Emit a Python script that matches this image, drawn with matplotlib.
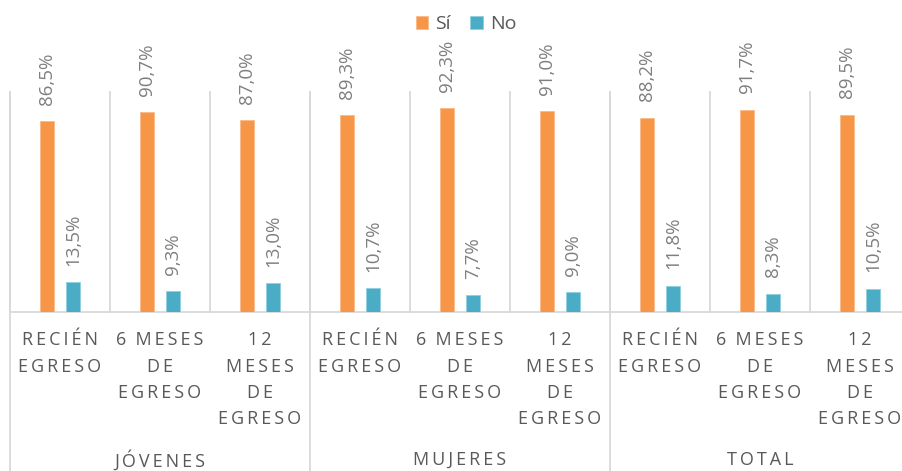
import matplotlib
matplotlib.use("Agg")
import matplotlib.pyplot as plt
from matplotlib import transforms
from matplotlib.lines import Line2D

plt.rcParams['font.family'] = ['Open Sans', 'DejaVu Sans']

groups = ["JÓVENES", "MUJERES", "TOTAL"]
categories = ["RECIÉN\nEGRESO", "6 MESES\nDE\nEGRESO", "12\nMESES\nDE\nEGRESO"] * 3
si_values = [86.5, 90.7, 87.0, 89.3, 92.3, 91.0, 88.2, 91.7, 89.5]
no_values = [13.5, 9.3, 13.0, 10.7, 7.7, 9.0, 11.8, 8.3, 10.5]
series_names = ["Sí", "No"]

C_SI = "#F79646"
C_NO = "#4BACC6"
GRID = "#D9D9D9"
LBL = "#7F7F7F"
TXT = "#595959"

W, H = 902, 471
fig = plt.figure(figsize=(W / 100, H / 100), dpi=100)
top_px, base_px, left_px, right_px = 91.5, 312, 10, 910
ax = fig.add_axes([left_px / W, (H - base_px) / H, (right_px - left_px) / W, (base_px - top_px) / H])
n = len(si_values)
ax.set_xlim(0, n)
ax.set_ylim(0, 100)
ax.axis('off')

xs = [i + 0.5 for i in range(n)]
off, bw = 0.13, 0.14
b1 = ax.bar([x - off for x in xs], si_values, width=bw, color=C_SI, edgecolor="#FAB98A", linewidth=0.6, label=series_names[0], zorder=3)
b2 = ax.bar([x + off for x in xs], no_values, width=bw, color=C_NO, edgecolor="#8FCFE0", linewidth=0.6, label=series_names[1], zorder=3)

def fmt(v):
    return f"{v:.1f}".replace('.', ',') + "%"

for x, v in zip(xs, si_values):
    ax.annotate(fmt(v), xy=(x - off, v), xytext=(0, 16.5), textcoords='offset pixels',
                rotation=90, ha='center', va='bottom', fontsize=13.5, color=LBL, annotation_clip=False)
for x, v in zip(xs, no_values):
    ax.annotate(fmt(v), xy=(x + off, v), xytext=(0, 16.5), textcoords='offset pixels',
                rotation=90, ha='center', va='bottom', fontsize=13.5, color=LBL, annotation_clip=False)

for k in range(n + 1):
    ax.plot([k, k], [0, 100], color=GRID, lw=1.3, clip_on=False, zorder=1)
ax.plot([0, n], [0, 0], color=GRID, lw=1.3, clip_on=False, zorder=2)

for k in range(0, n + 1, 3):
    xf = (left_px + 100 * k) / W
    fig.add_artist(Line2D([xf, xf], [0, (H - top_px) / H], transform=fig.transFigure, color=GRID, lw=1.3))

def spaced(s):
    return "  ".join("\u2009".join(list(w)) for w in s.split(" "))

trans = transforms.blended_transform_factory(ax.transData, fig.transFigure)
line_y = [340, 366.5, 393, 419.5]
for x, cat in zip(xs, categories):
    for j, line in enumerate(cat.split("\n")):
        fig.text(x, (H - line_y[j]) / H, spaced(line), transform=trans, ha='center', va='center',
                 fontsize=13, color=TXT)

for g, name in enumerate(groups):
    fig.text(3 * g + 1.5, (H - 460) / H, spaced(name), transform=trans, ha='center', va='center',
             fontsize=13, color=TXT)

fig.legend(handles=[b1, b2], labels=series_names, loc='center', bbox_to_anchor=(466 / W, 1 - 24 / H),
           ncol=2, frameon=False, handlelength=0.65, handleheight=0.65, handletextpad=0.35,
           columnspacing=1.0, fontsize=14, labelcolor=TXT, borderaxespad=0)

fig.savefig("out.png", dpi=100)
